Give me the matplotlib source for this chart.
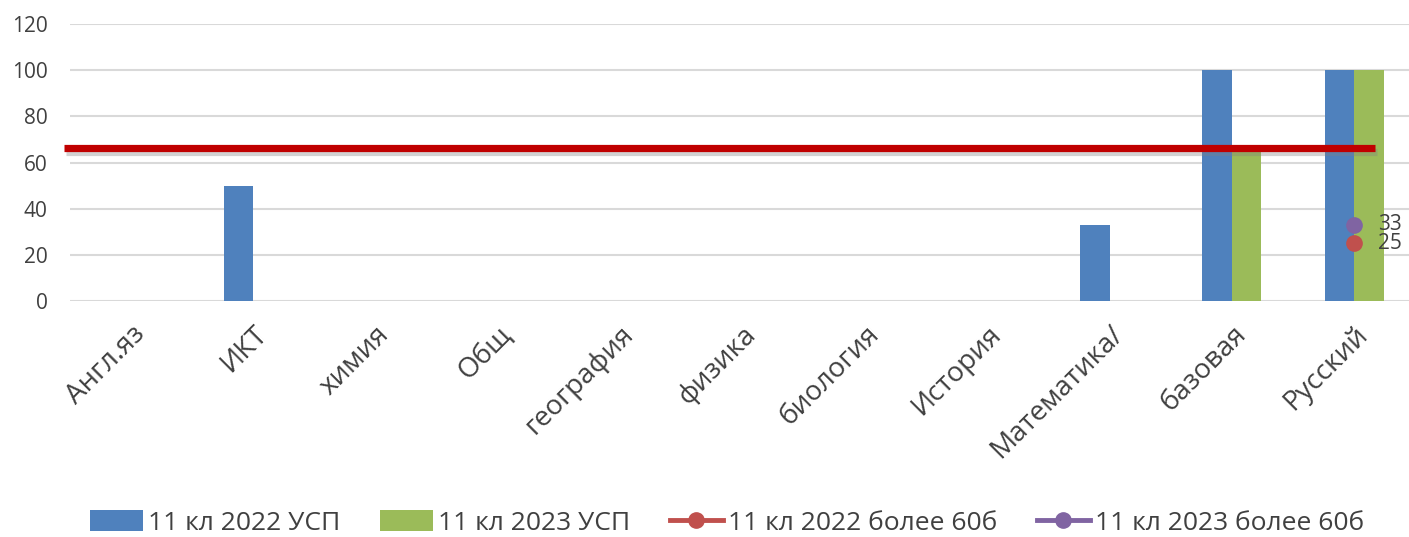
import numpy as np
import matplotlib.pyplot as plt
import matplotlib.patheffects as pe

# --- Dados ---
categories = ['Англ.яз', 'ИКТ', 'химия', 'Общ', 'география', 'физика',
              'биология', 'История', 'Математика/', 'базовая', 'Русский']
usp_2022 = [0, 50, 0, 0, 0, 0, 0, 0, 33, 100, 100]
usp_2023 = [0, 0, 0, 0, 0, 0, 0, 0, 0, 67, 100]
over60_2022 = [None] * 10 + [25]
over60_2023 = [None] * 10 + [33]
threshold = 66.3

BLUE = '#4f81bd'
GREEN = '#9bbb59'
RED = '#c0504d'
PURPLE = '#8064a2'
TXT = '#404040'

plt.rcParams['font.family'] = ['Open Sans', 'DejaVu Sans']

fig = plt.figure(figsize=(14.09, 5.37), dpi=100)
ax = fig.add_axes([0.0495, 0.4395, 0.955, 0.5155])

x = np.arange(len(categories))
w = 0.24
b1 = ax.bar(x - w / 2, usp_2022, w, color=BLUE, label='11 кл 2022 УСП', zorder=2)
b2 = ax.bar(x + w / 2, usp_2023, w, color=GREEN, label='11 кл 2023 УСП', zorder=2)

y22 = np.array([np.nan if v is None else v for v in over60_2022], dtype=float)
y23 = np.array([np.nan if v is None else v for v in over60_2023], dtype=float)
l1, = ax.plot(x, y22, color=RED, lw=3.5, marker='o', ms=11, label='11 кл 2022 более 60б', zorder=3)
l2, = ax.plot(x, y23, color=PURPLE, lw=3.5, marker='o', ms=11, label='11 кл 2023 более 60б', zorder=3)
for ys in (y22, y23):
    for xi, v in zip(x, ys):
        if not np.isnan(v):
            ax.annotate(f'{v:.0f}', (xi, v), xytext=(17, 0), textcoords='offset points',
                        va='center', ha='left', fontsize=15, color=TXT)

# linha vermelha desenhada por cima (forma)
ax.plot([-0.55, 10.17], [threshold, threshold], color='#c00000', lw=5.2,
        solid_capstyle='butt', clip_on=False, zorder=5,
        path_effects=[pe.SimpleLineShadow(offset=(1.5, -2.5), alpha=0.35, shadow_color='gray'),
                      pe.Normal()])

ax.set_xlim(-0.5, len(categories) - 0.5)
ax.set_ylim(0, 120)
ax.set_yticks(range(0, 121, 20))
ax.grid(axis='y', color='#d9d9d9', lw=1.5, zorder=0)
ax.set_axisbelow(True)
for s in ax.spines.values():
    s.set_visible(False)
ax.tick_params(length=0)
ax.tick_params(axis='y', labelsize=15, labelcolor=TXT, pad=16)
ax.set_xticks(x)
ax.set_xticklabels(categories, rotation=45, ha='right', rotation_mode='anchor',
                   fontsize=20, color=TXT)
ax.tick_params(axis='x', pad=14)

fig.legend([b1, b2, l1, l2], [b1.get_label(), b2.get_label(), l1.get_label(), l2.get_label()],
           loc='center', bbox_to_anchor=(0.516, 0.026), ncol=4, frameon=False,
           fontsize=19, handlelength=2.0, handleheight=0.8, columnspacing=1.5,
           handletextpad=0.2, labelcolor=TXT, borderaxespad=0)

plt.savefig('out.png', dpi=100)
